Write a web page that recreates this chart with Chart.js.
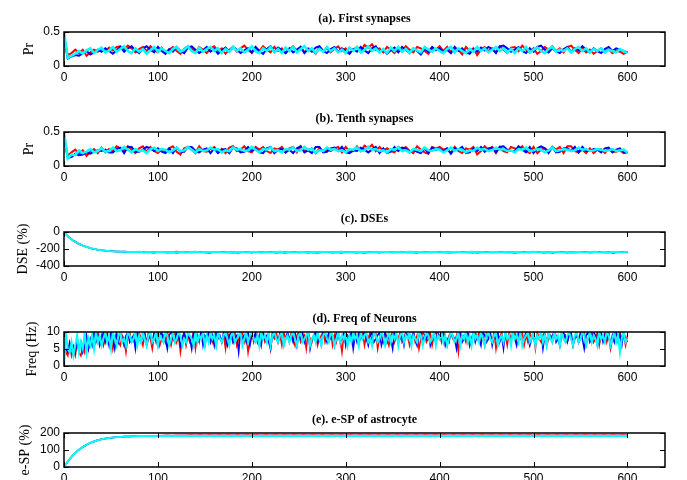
<!DOCTYPE html>
<html>
<head>
<meta charset="utf-8">
<script src="https://cdn.jsdelivr.net/npm/chart.js@4.4.1/dist/chart.umd.min.js"></script>
<style>
  body { margin: 0; background: #fff; overflow: hidden; }
  .panel { position: absolute; left: 0; }
</style>
</head>
<body>
<canvas id="panelA" class="panel" width="687" height="100" style="top:0px"></canvas>
<canvas id="panelB" class="panel" width="687" height="100" style="top:100px"></canvas>
<canvas id="panelC" class="panel" width="687" height="100" style="top:200px"></canvas>
<canvas id="panelD" class="panel" width="687" height="100" style="top:300px"></canvas>
<canvas id="panelE" class="panel" width="687" height="100" style="top:401px"></canvas>
<script>
// time axis (s), sampled at the step each series was read at
function timeAxis(step) {
    const t = [];
    for (let x = 0; x <= 600; x += step) t.push(x);
    return t;
}
const time2 = timeAxis(2);
const time4 = timeAxis(4);
const time5 = timeAxis(5);

const xTicks = [0, 100, 200, 300, 400, 500, 600];

// (a) First synapses - Pr
const prFirstRed = [
.45,.16,.19,.24,.19,.24,.15,.20,.24,.21,
.26,.21,.27,.23,.28,.29,.24,.30,.26,.20,
.25,.28,.22,.29,.24,.20,.27,.19,.24,.28,
.22,.18,.25,.29,.26,.20,.28,.24,.19,.26,
.29,.22,.26,.18,.24,.28,.21,.26,.30,.24,
.19,.27,.22,.29,.24,.20,.28,.22,.26,.19,
.24,.29,.22,.28,.20,.26,.24,.18,.28,.22,
.26,.20,.25,.29,.22,.26,.19,.24,.28,.21,
.31,.27,.32,.24,.26,.20,.28,.24,.19,.26,
.22,.29,.24,.20,.28,.26,.22,.18,.26,.24,
.29,.22,.28,.20,.26,.24,.17,.28,.22,.26,
.16,.24,.28,.22,.26,.20,.29,.24,.19,.27,
.28,.22,.30,.24,.20,.26,.18,.22,.28,.24,
.29,.22,.26,.20,.28,.30,.24,.19,.26,.20,
.24,.18,.22,.26,.20,.25,.19,.23,.21,.18,
.21];
const prFirstBlue = [
.40,.11,.14,.16,.15,.19,.22,.17,.20,.24,
.21,.26,.22,.18,.23,.28,.21,.26,.29,.23,
.19,.26,.29,.24,.20,.28,.22,.18,.25,.21,
.28,.22,.19,.27,.29,.24,.19,.23,.28,.21,
.25,.18,.23,.27,.21,.28,.24,.19,.23,.26,
.20,.28,.22,.18,.25,.29,.21,.27,.23,.19,
.26,.20,.24,.28,.19,.25,.21,.27,.29,.22,
.19,.25,.28,.21,.26,.22,.18,.25,.21,.28,
.23,.19,.26,.29,.21,.24,.18,.23,.27,.20,
.28,.24,.19,.26,.22,.17,.25,.21,.28,.23,
.26,.20,.24,.19,.28,.22,.26,.20,.18,.25,
.21,.27,.23,.28,.25,.19,.29,.30,.26,.21,
.24,.28,.22,.19,.26,.21,.28,.30,.24,.20,
.26,.22,.19,.25,.28,.21,.26,.23,.29,.24,
.20,.26,.22,.19,.25,.28,.22,.26,.24,.22,
.20];
const prFirstCyan = [
.50,.12,.15,.18,.22,.18,.23,.26,.19,.24,
.27,.20,.23,.28,.21,.25,.29,.22,.19,.26,
.21,.25,.18,.23,.28,.21,.26,.22,.19,.25,
.28,.21,.24,.29,.22,.19,.27,.21,.25,.28,
.22,.26,.19,.25,.21,.28,.22,.26,.20,.24,
.29,.22,.19,.26,.22,.28,.20,.25,.19,.27,
.22,.28,.20,.25,.29,.22,.26,.19,.25,.21,
.28,.22,.26,.20,.24,.19,.27,.22,.28,.20,
.24,.29,.22,.26,.20,.25,.19,.27,.22,.28,
.21,.25,.19,.26,.23,.20,.28,.24,.21,.26,
.22,.19,.25,.28,.20,.26,.22,.19,.25,.21,
.28,.22,.26,.20,.24,.28,.22,.26,.20,.25,
.19,.26,.22,.28,.20,.24,.27,.22,.19,.25,
.28,.21,.24,.22,.26,.20,.25,.28,.22,.26,
.20,.25,.22,.26,.20,.24,.22,.20,.25,.22,
.19];

// (b) Tenth synapses - Pr
const prTenthRed = [
.44,.15,.20,.24,.18,.23,.15,.21,.25,.19,
.27,.20,.25,.22,.29,.26,.22,.29,.24,.19,
.26,.29,.21,.28,.22,.19,.25,.21,.26,.29,
.21,.17,.26,.28,.24,.19,.29,.22,.21,.25,
.28,.20,.25,.19,.27,.29,.22,.24,.29,.22,
.20,.28,.24,.28,.22,.19,.26,.24,.28,.20,
.26,.28,.20,.29,.22,.24,.26,.19,.26,.21,
.24,.22,.26,.28,.20,.28,.21,.22,.29,.22,
.30,.26,.31,.22,.28,.22,.26,.22,.20,.28,
.24,.28,.22,.19,.29,.24,.20,.18,.28,.26,
.28,.24,.26,.19,.28,.22,.19,.26,.24,.28,
.17,.22,.29,.24,.28,.19,.28,.22,.20,.28,
.26,.24,.29,.22,.19,.28,.19,.24,.26,.22,
.28,.24,.28,.19,.29,.29,.22,.20,.24,.19,
.26,.19,.24,.25,.19,.26,.21,.21,.23,.19,
.20];
const prTenthBlue = [
.41,.12,.13,.18,.16,.17,.20,.18,.21,.23,
.22,.24,.20,.20,.25,.27,.19,.28,.28,.21,
.21,.24,.28,.26,.22,.26,.21,.19,.26,.19,
.27,.21,.21,.28,.28,.22,.20,.24,.26,.19,
.26,.19,.24,.25,.19,.27,.26,.20,.21,.28,
.22,.26,.20,.19,.26,.28,.19,.24,.25,.20,
.24,.19,.26,.29,.20,.23,.19,.28,.28,.20,
.21,.26,.27,.22,.28,.20,.19,.23,.22,.27,
.24,.20,.24,.28,.19,.26,.19,.21,.28,.22,
.27,.26,.20,.24,.21,.19,.26,.19,.27,.24,
.25,.22,.26,.18,.26,.24,.28,.19,.20,.26,
.22,.28,.21,.26,.27,.20,.28,.29,.24,.22,
.22,.29,.24,.20,.28,.19,.26,.29,.26,.19,
.28,.20,.21,.26,.26,.22,.28,.20,.28,.22,
.22,.25,.24,.20,.26,.27,.20,.24,.26,.20,
.21];
const prTenthCyan = [
.50,.11,.17,.16,.23,.19,.21,.25,.20,.22,
.26,.21,.22,.27,.22,.23,.28,.24,.20,.25,
.22,.23,.19,.25,.27,.22,.25,.24,.20,.23,
.27,.22,.23,.28,.24,.20,.25,.22,.23,.27,
.24,.25,.20,.23,.22,.27,.24,.25,.22,.23,
.28,.24,.20,.25,.24,.27,.22,.23,.20,.25,
.24,.27,.22,.23,.28,.24,.25,.20,.23,.22,
.27,.24,.25,.22,.23,.20,.25,.24,.27,.22,
.23,.28,.24,.25,.22,.23,.20,.25,.24,.27,
.22,.23,.20,.25,.24,.22,.27,.23,.22,.25,
.24,.20,.23,.27,.22,.25,.24,.20,.23,.22,
.27,.24,.25,.22,.23,.27,.24,.25,.22,.23,
.20,.25,.24,.27,.22,.23,.25,.24,.20,.23,
.27,.22,.23,.25,.24,.22,.23,.27,.24,.25,
.22,.23,.25,.24,.22,.23,.25,.22,.23,.24,
.20];

// (c) DSEs (%)
const dseRed = [
0,-65,-105,-138,-162,-180,-196,-207,-215,-222,
-226,-230,-228,-233,-236,-231,-238,-234,-240,-236,
-232,-238,-241,-235,-230,-237,-242,-236,-233,-239,
-235,-241,-237,-232,-238,-235,-240,-236,-231,-237,
-242,-236,-233,-238,-235,-240,-237,-233,-239,-236,
-232,-238,-243,-237,-234,-239,-236,-241,-235,-232,
-238,-236,-241,-237,-233,-239,-235,-240,-237,-232,
-238,-235,-241,-236,-233,-239,-237,-242,-236,-233,
-238,-235,-240,-237,-232,-239,-236,-241,-235,-233,
-238,-236,-242,-237,-234,-239,-235,-240,-236,-232,
-238,-235,-241,-237,-233,-239,-236,-240,-235,-232,
-238,-236,-241,-237,-233,-239,-235,-240,-236,-233,
-237];
const dseBlue = [
-5,-58,-100,-132,-158,-178,-193,-205,-214,-220,
-225,-229,-233,-230,-235,-239,-234,-240,-236,-243,
-238,-234,-240,-237,-244,-239,-235,-241,-238,-234,
-240,-243,-236,-239,-234,-241,-238,-244,-237,-235,
-240,-236,-242,-238,-234,-241,-237,-243,-239,-235,
-241,-237,-234,-240,-244,-238,-235,-241,-237,-243,
-239,-235,-240,-237,-243,-238,-234,-241,-239,-236,
-242,-238,-235,-240,-237,-243,-239,-235,-241,-238,
-234,-240,-237,-242,-239,-235,-241,-238,-243,-237,
-235,-240,-238,-234,-241,-237,-243,-239,-236,-240,
-238,-234,-241,-237,-243,-238,-235,-240,-237,-242,
-239,-235,-241,-238,-234,-240,-237,-243,-238,-235,
-240];
const dseCyan = [
-2,-62,-103,-135,-160,-179,-194,-206,-214,-221,
-226,-229,-232,-231,-234,-236,-233,-237,-235,-238,
-234,-236,-238,-235,-237,-234,-238,-236,-233,-237,
-235,-238,-236,-234,-237,-235,-239,-236,-234,-238,
-236,-234,-237,-235,-238,-236,-233,-237,-235,-238,
-236,-234,-237,-235,-239,-236,-234,-238,-236,-233,
-237,-235,-238,-236,-234,-237,-235,-239,-236,-234,
-237,-235,-238,-236,-233,-237,-235,-238,-236,-234,
-237,-235,-239,-236,-234,-238,-236,-233,-237,-235,
-238,-236,-234,-237,-235,-239,-236,-234,-238,-236,
-233,-237,-235,-238,-236,-234,-237,-235,-239,-236,
-234,-238,-236,-233,-237,-235,-238,-236,-234,-237,
-236];

// (d) Freq of Neurons (Hz)
const freqRed = [
5,4,3,6,3,5,3,7,4,3,6,4,8,5,7,9,6,8,10,7,
9,6,8,10,7,9,5,8,10,7,6,9,8,4,9,10,7,8,6,9,
10,8,6,9,7,10,8,5,9,7,10,6,8,9,7,10,8,6,9,10,
7,9,4,8,10,6,9,7,8,10,5,9,7,10,8,6,9,8,10,7,
9,6,10,8,7,9,5,10,8,9,7,10,6,8,9,10,7,9,4,8,
10,7,9,8,6,10,9,7,8,10,5,9,8,10,7,9,6,10,8,9,
7,10,8,6,9,10,7,8,9,5,10,8,7,9,10,6,8,9,10,7,
9,8,10,6,9,7,10,8,4,9,10,7,8,9,6,10,8,7,9,10,
6,9,8,10,7,9,10,5,8,9,7,10,8,6,9,10,7,9,8,10,
7,8,10,9,6,8,10,7,9,5,8,10,9,7,8,10,6,9,10,8,
9,7,10,8,6,9,10,8,7,9,4,10,8,9,7,10,6,8,9,10,
8,10,7,9,6,10,8,9,7,10,5,9,8,10,7,9,6,10,8,9,
10,7,9,8,10,6,9,7,10,8,9,5,10,8,7,9,10,6,8,9,
7,10,9,8,6,10,8,9,7,10,8,6,9,10,7,8,9,10,6,8,
9,10,7,8,10,6,9,8,10,7,9,5,8,10,9,7,10,8,9,6,
9];
const freqBlue = [
6,5,4,7,5,6,4,8,5,7,4,6,9,5,8,6,10,7,9,6,
8,10,7,9,6,10,8,5,9,7,10,8,6,9,10,7,8,9,5,10,
8,7,9,10,6,8,9,7,10,8,6,9,10,7,8,5,9,10,8,7,
10,9,6,8,10,7,9,8,5,10,9,7,8,10,6,9,8,10,7,9,
6,10,8,9,7,10,8,6,9,10,7,8,9,4,10,8,9,7,10,6,
9,8,10,7,9,6,10,8,9,7,5,10,9,8,7,10,9,6,8,10,
8,9,7,10,6,9,8,10,7,9,10,5,8,9,10,7,8,6,10,9,
7,10,8,9,6,10,9,7,8,10,6,9,8,10,5,9,7,10,8,9,
10,8,6,9,10,7,8,9,10,6,8,10,7,9,8,5,10,9,7,8,
9,6,10,8,9,7,10,8,6,9,10,7,9,8,10,6,8,9,7,10,
8,9,10,6,8,7,10,9,8,5,9,10,7,8,9,10,6,8,10,7,
9,8,6,10,9,7,8,10,6,9,8,10,7,9,5,10,8,9,7,10,
8,6,10,9,7,8,10,9,6,8,10,7,9,8,10,5,9,7,10,8,
9,10,7,8,6,9,10,8,7,9,10,6,8,9,7,10,8,5,9,10,
7,8,10,9,6,8,10,7,9,8,10,6,9,7,10,8,9,6,10,8,
7];
const freqCyan = [
0,10,5,4,7,3,6,9,4,7,5,10,4,8,6,9,5,10,7,9,
6,8,10,7,9,5,10,8,6,9,10,7,8,6,10,9,7,8,10,6,
9,7,10,8,6,9,10,7,8,10,6,9,8,7,10,9,6,8,10,7,
8,10,9,6,8,7,10,9,8,6,10,7,9,8,10,6,9,7,10,8,
9,6,10,8,7,9,10,8,6,9,10,7,8,9,10,6,8,10,7,9,
10,8,7,9,6,10,8,9,7,10,6,9,10,8,7,9,10,6,8,9,
7,9,10,8,6,9,10,7,8,9,10,6,8,9,7,10,8,6,9,10,
8,7,10,9,6,8,10,7,9,8,10,6,9,7,10,8,9,6,10,8,
9,10,7,8,6,10,9,7,8,10,9,6,8,10,7,9,8,10,6,9,
10,7,9,8,10,6,9,8,7,10,9,6,8,10,9,7,8,10,6,9,
8,10,7,9,6,8,10,9,7,8,10,6,9,8,10,7,9,6,10,8,
9,7,10,8,6,9,10,8,7,9,10,6,8,9,7,10,8,9,6,10,
8,9,7,10,6,8,9,10,7,8,10,6,9,8,10,7,9,6,10,8,
7,10,8,9,6,10,8,7,9,10,8,6,9,10,7,8,10,9,6,8,
10,7,9,8,6,10,8,9,7,10,9,6,8,10,7,9,4,8,10,7,
8];

// (e) e-SP of astrocyte (%)
const espRed = [
0,41,73,99,119,135,147,157,163,169,
172,175,177,179,180,181,182,183,183,184,
184,185,185,186,186,187,186,188,186,188,
186,188,186,188,186,188,186,188,186,188,
186,188,186,188,186,188,186,188,186,188,
186,188,186,188,186,188,186,188,186,188,
186,188,186,188,186,188,186,188,186,188,
186,188,186,188,186,188,186,188,186,188,
186,188,186,188,186,188,186,188,186,188,
186,188,186,188,186,188,186,188,186,188,
186,188,186,188,186,188,186,188,186,188,
186,188,186,188,186,188,186,188,186,188,
186];
const espBlue = [
0,39,71,97,117,133,146,156,163,168,
172,175,177,179,180,181,182,182,183,183,
184,184,185,184,185,184,185,184,185,184,
185,184,185,184,185,184,185,184,185,184,
185,184,185,184,185,184,185,184,185,184,
185,184,185,184,185,184,185,184,185,184,
185,184,185,184,185,184,185,184,185,184,
185,184,185,184,185,184,185,184,185,184,
185,184,185,184,185,184,185,184,185,184,
185,184,185,184,185,184,185,184,185,184,
185,184,185,184,185,184,185,184,185,184,
185,184,185,184,185,184,185,184,185,184,
185];
const espCyan = [
0,40,72,98,118,134,147,156,163,168,
172,175,177,179,180,181,182,182,182,183,
183,182,183,182,183,182,183,182,183,182,
183,182,183,182,183,182,183,182,183,182,
183,182,183,182,183,182,183,182,183,182,
183,182,183,182,183,182,183,182,183,182,
183,182,183,182,183,182,183,182,183,182,
183,182,183,182,183,182,183,182,183,182,
183,182,183,182,183,182,183,182,183,182,
183,182,183,182,183,182,183,182,183,182,
183,182,183,182,183,182,183,182,183,182,
183,182,183,182,183,182,183,182,183,182,
183];

// draws the MATLAB style box, inward ticks and the panel title
const frameBox = {
    id: 'frameBox',
    afterDatasetsDraw(chart, args, opts) {
        const { ctx, chartArea: a, scales } = chart;
        ctx.save();
        ctx.strokeStyle = '#000';
        ctx.lineWidth = 1;
        ctx.beginPath();
        scales.x.ticks.forEach(function(t) {
            const px = Math.round(scales.x.getPixelForValue(t.value)) + 0.5;
            ctx.moveTo(px, a.bottom); ctx.lineTo(px, a.bottom - 5);
            ctx.moveTo(px, a.top); ctx.lineTo(px, a.top + 5);
        });
        scales.y.ticks.forEach(function(t) {
            const py = Math.round(scales.y.getPixelForValue(t.value)) + 0.5;
            ctx.moveTo(a.left, py); ctx.lineTo(a.left + 5, py);
            ctx.moveTo(a.right, py); ctx.lineTo(a.right - 5, py);
        });
        ctx.stroke();
        ctx.lineWidth = 1.5;
        ctx.strokeRect(a.left, a.top, a.right - a.left, a.bottom - a.top);
        ctx.fillStyle = '#000';
        ctx.font = 'bold 12px "Liberation Serif"';
        ctx.textAlign = 'center';
        ctx.textBaseline = 'alphabetic';
        ctx.fillText(opts.title, (a.left + a.right) / 2, a.top - 10);
        ctx.restore();
    }
};

function makePanel(id, title, time, red, blue, cyan, yMin, yMax, yStep, yLabel, yLabelPad, widths) {
    const line = function(data, color, width) {
        return { data: data, borderColor: color, borderWidth: width, pointRadius: 0, tension: 0, fill: false };
    };
    return new Chart(document.getElementById(id), {
        type: 'line',
        data: {
            labels: time,
            datasets: [
                line(cyan, '#00ffff', widths[0]),
                line(blue, '#0000ff', widths[1]),
                line(red, '#ff0000', widths[1])
            ]
        },
        options: {
            responsive: false,
            animation: false,
            events: [],
            layout: { padding: { top: 32, right: 22, left: 0, bottom: 0 } },
            plugins: {
                legend: { display: false },
                tooltip: { enabled: false },
                frameBox: { title: title }
            },
            scales: {
                x: {
                    type: 'linear',
                    min: 0,
                    max: 640,
                    grid: { display: false, drawTicks: false },
                    border: { display: false },
                    ticks: {
                        stepSize: 100,
                        padding: 4,
                        maxRotation: 0,
                        autoSkip: false,
                        color: '#000',
                        font: { family: '"Liberation Sans"', size: 12 }
                    },
                    afterBuildTicks: function(scale) {
                        scale.ticks = xTicks.map(function(v) { return { value: v }; });
                    },
                    afterFit: function(scale) { scale.height = 34; }
                },
                y: {
                    min: yMin,
                    max: yMax,
                    grid: { display: false, drawTicks: false },
                    border: { display: false },
                    ticks: {
                        stepSize: yStep,
                        padding: 4,
                        autoSkip: false,
                        color: '#000',
                        font: { family: '"Liberation Sans"', size: 12 }
                    },
                    title: {
                        display: true,
                        text: yLabel,
                        color: '#000',
                        padding: { top: yLabelPad, bottom: 0 },
                        font: { family: '"Liberation Serif"', size: 14 }
                    },
                    afterFit: function(scale) { scale.width = 64; }
                }
            }
        },
        plugins: [frameBox]
    });
}

makePanel('panelA', '(a). First synapses', time4, prFirstRed, prFirstBlue, prFirstCyan, 0, 0.5, 0.5, 'Pr', 21, [2.5, 2]);
makePanel('panelB', '(b). Tenth synapses', time4, prTenthRed, prTenthBlue, prTenthCyan, 0, 0.5, 0.5, 'Pr', 21, [2.5, 2]);
makePanel('panelC', '(c). DSEs', time5, dseRed, dseBlue, dseCyan, -400, 0, 200, 'DSE (%)', 15, [2, 1.5]);
makePanel('panelD', '(d). Freq of Neurons', time2, freqRed, freqBlue, freqCyan, 0, 10, 5, 'Freq (Hz)', 24, [2, 1.5]);
makePanel('panelE', '(e). e-SP of astrocyte', time5, espRed, espBlue, espCyan, 0, 200, 100, 'e-SP (%)', 17, [2, 1.5]);
</script>
</body>
</html>
